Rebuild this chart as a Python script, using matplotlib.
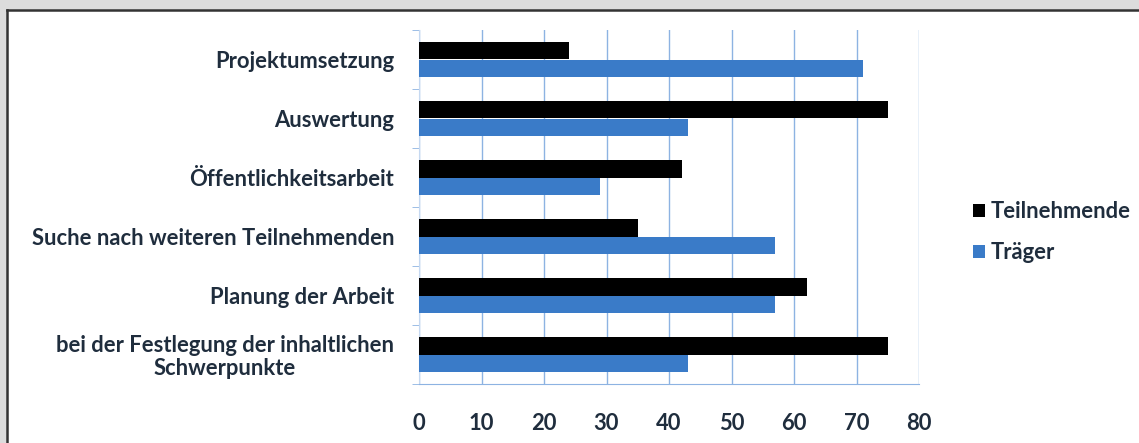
import matplotlib
matplotlib.use("Agg")
import matplotlib.pyplot as plt
from matplotlib.patches import Rectangle
import numpy as np

# Kategorien von oben nach unten
kategorien = [
    "Projektumsetzung",
    "Auswertung",
    "Öffentlichkeitsarbeit",
    "Suche nach weiteren Teilnehmenden",
    "Planung der Arbeit",
    "bei der Festlegung der inhaltlichen\nSchwerpunkte",
]
teilnehmende = [24, 75, 42, 35, 62, 75]
traeger = [71, 43, 29, 57, 57, 43]
x_ticks = [0, 10, 20, 30, 40, 50, 60, 70, 80]

plt.rcParams['font.family'] = ['Lato', 'DejaVu Sans']
textfarbe = "#1f2d3d"
fs = 15.8

W, H = 1139, 443
fig = plt.figure(figsize=(W / 100, H / 100), dpi=100, facecolor="#dcdcdc")

# weisser Rahmen mit dunkler Kante oben und links
fig.add_artist(Rectangle((7 / W, -0.05), 1.0, 1.05 - 10 / H, transform=fig.transFigure,
                         facecolor="white", edgecolor="none", zorder=0))
fig.add_artist(plt.Line2D([7 / W, 1], [1 - 10 / H, 1 - 10 / H], transform=fig.transFigure,
                          color="#333333", linewidth=1.8))
fig.add_artist(plt.Line2D([7 / W, 7 / W], [0, 1 - 10 / H], transform=fig.transFigure,
                          color="#333333", linewidth=1.8))

ax = fig.add_axes([419 / W, 1 - 384 / H, 500 / W, 354 / H])
ax.set_facecolor("none")

y = np.arange(len(kategorien))
h = 0.29
ax.barh(y - h / 2, teilnehmende, height=h, color="black", label="Teilnehmende", zorder=3)
ax.barh(y + h / 2, traeger, height=h, color="#3a7bc8", label="Träger", zorder=3)

ax.set_xlim(0, 80)
ax.set_ylim(len(kategorien) - 0.5, -0.5)
ax.set_xticks(x_ticks)
ax.set_xticklabels([str(v) for v in x_ticks], fontsize=fs, fontweight="bold", color=textfarbe)
ax.tick_params(axis="x", length=0, pad=21)

ax.set_yticks(y)
ax.set_yticklabels(kategorien, fontsize=fs, fontweight="bold", color=textfarbe,
                   multialignment="center", linespacing=1.1)
ax.set_yticks(np.arange(len(kategorien) + 1) - 0.5, minor=True)
ax.tick_params(axis="y", which="major", length=0, pad=18)
ax.tick_params(axis="y", which="minor", length=5, color="#8db3e2", direction="out")

ax.grid(axis="x", color="#8db3e2", linewidth=1.0, zorder=0)
for side in ["top", "right"]:
    ax.spines[side].set_visible(False)
ax.spines["bottom"].set_color("#8db3e2")
ax.spines["left"].set_color("#c6d9f1")

leg = ax.legend(loc="center left", bbox_to_anchor=(953 / W, 1 - 232 / H),
                bbox_transform=fig.transFigure, frameon=False,
                handlelength=0.55, handleheight=0.55, handletextpad=0.25,
                labelspacing=0.9, prop={"weight": "bold", "size": fs})
for t in leg.get_texts():
    t.set_color(textfarbe)

fig.savefig("out.png", dpi=100, facecolor=fig.get_facecolor())
